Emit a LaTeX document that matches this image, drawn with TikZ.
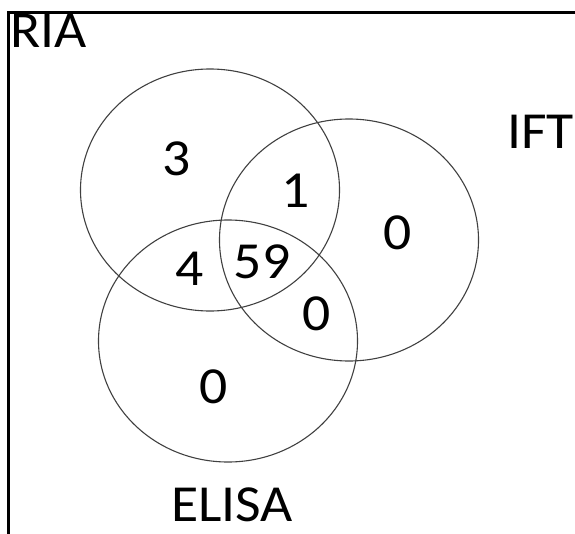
\documentclass[tikz,border=0pt]{standalone}
\usepackage{fontspec}
\setmainfont{Carlito}[FakeStretch=1.07]
\usepackage{tikz}
\usetikzlibrary{positioning}

\tikzset{
    setline/.style={draw=black!75, line width=1.1pt},
    count/.style={inner sep=0pt, font=\fontsize{52}{60}\selectfont},
    setname/.style={inner sep=0pt, font=\fontsize{52}{60}\selectfont},
}

\begin{document}
\begin{tikzpicture}[x=1pt,y=-1pt]
    \useasboundingbox (0,0) rectangle (575,533);
    \clip (0,0) rectangle (575,533);
    % frame
    \draw[line width=2.4pt] (8.5,600) -- (8.5,12.5) -- (620,12.5);
    % the three sets
    \coordinate (cria) at (210,190);
    \coordinate (cift) at (349,240);
    \coordinate (celisa) at (228,341);
    \draw[setline] (cria) ellipse [x radius=129.5, y radius=121];
    \draw[setline] (cift) ellipse [x radius=129.5, y radius=121];
    \draw[setline] (celisa) ellipse [x radius=129.5, y radius=121];
    % set names
    \node[setname, anchor=base west] (ria) at (10,47) {RIA};
    \node[setname, anchor=base east] (ift) at (574,148) {IFT};
    \node[setname, anchor=base] (elisa) at (232,521) {ELISA};
    % counts
    \node[count] (onlyria) at (177,159) {3};
    \node[count] (riaift) at (296,190.5) {1};
    \node[count] (onlyift) at (398,233) {0};
    \node[count] (riaelisa) at (190,269) {4};
    \node[count] (all) at (262,262) {59};
    \node[count] (iftelisa) at (317,314) {0};
    \node[count] (onlyelisa) at (214,387) {0};
\end{tikzpicture}
\end{document}
